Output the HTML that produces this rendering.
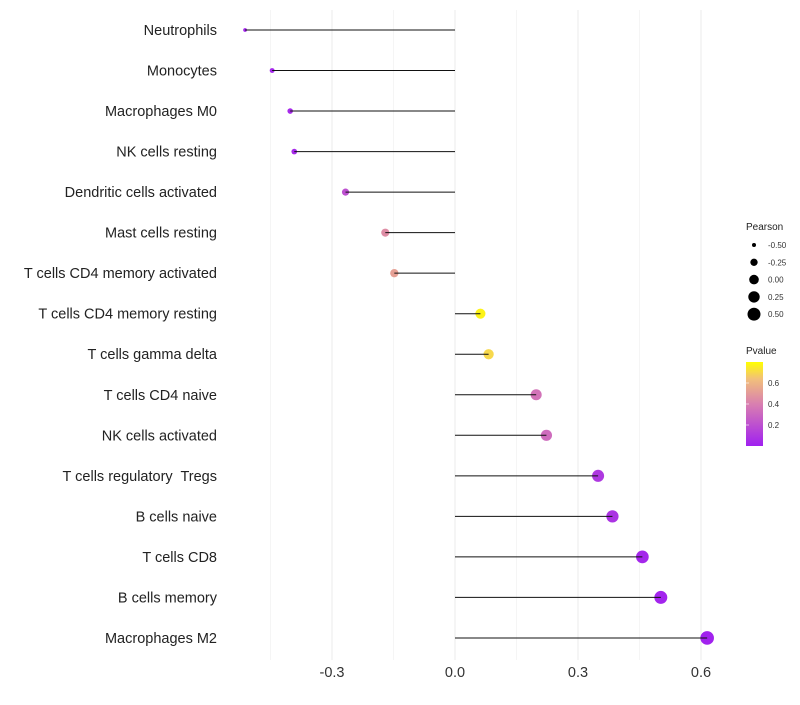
<!DOCTYPE html>
<html><head><meta charset="utf-8"><style>
body{margin:0;background:#fff;font-family:"Liberation Sans",sans-serif;}
text{white-space:pre;}
</style></head><body>
<svg id="chart" width="800" height="700" xmlns="http://www.w3.org/2000/svg" font-family="Liberation Sans, sans-serif">
<defs><linearGradient id="pg" x1="0" y1="1" x2="0" y2="0">
<stop offset="0" stop-color="#A020F0"/><stop offset="0.5" stop-color="#D97FB0"/><stop offset="0.8" stop-color="#F2C07A"/><stop offset="1" stop-color="#FFFF00"/></linearGradient></defs>
<g id="grid"></g><g id="marks"></g><g id="labels"></g><g id="legend"></g>
</svg>
<script>
const categories=["Neutrophils","Monocytes","Macrophages M0","NK cells resting","Dendritic cells activated","Mast cells resting","T cells CD4 memory activated","T cells CD4 memory resting","T cells gamma delta","T cells CD4 naive","NK cells activated","T cells regulatory  Tregs","B cells naive","T cells CD8","B cells memory","Macrophages M2"];
const pearson=[-0.512,-0.446,-0.402,-0.392,-0.267,-0.17,-0.148,0.062,0.082,0.198,0.223,0.349,0.384,0.457,0.502,0.615];
const pvalues=[0.02,0.03,0.04,0.04,0.2,0.45,0.52,0.77,0.7,0.35,0.32,0.1,0.08,0.03,0.02,0.01];
const xTicks=[-0.3,0,0.3,0.6];
const xMinor=[-0.45,-0.15,0.15,0.45];
const sizeLegend=[-0.5,-0.25,0,0.25,0.5];
const pTicks=[0.2,0.4,0.6];
const NS="http://www.w3.org/2000/svg";
function mk(t,a,p){const e=document.createElementNS(NS,t);for(const k in a)e.setAttribute(k,a[k]);p.appendChild(e);return e;}
const x=v=>455+v*410;
const y=i=>30+i*40.53;
const r=v=>Math.sqrt(Math.max(1,23+38*v));
const pMin=0,pMax=0.8;
const stops=[[0,[160,32,240]],[0.5,[217,127,176]],[0.8,[242,192,122]],[1,[255,255,0]]];
function col(p){let t=(p-pMin)/(pMax-pMin);t=Math.max(0,Math.min(1,t));for(let i=1;i<stops.length;i++){if(t<=stops[i][0]){const a=stops[i-1],b=stops[i],f=(t-a[0])/(b[0]-a[0]);return "rgb("+a[1].map((c,j)=>Math.round(c+(b[1][j]-c)*f)).join(",")+")";}}return "rgb(255,255,0)";}
const grid=document.getElementById('grid'),marks=document.getElementById('marks'),labels=document.getElementById('labels'),legend=document.getElementById('legend');
xMinor.forEach(v=>{const l=mk('line',{x1:x(v),x2:x(v),y1:10,y2:660,stroke:'#f3f3f3','stroke-width':0.8},grid);

});
xTicks.forEach(v=>{const l=mk('line',{x1:x(v),x2:x(v),y1:10,y2:660,stroke:'#ebebeb','stroke-width':1},grid);


const t=mk('text',{x:x(v),y:677,'text-anchor':'middle','font-size':14.5,fill:'#333'},labels);t.textContent=v.toFixed(1);

});
categories.forEach((c,i)=>{
const t=mk('text',{x:217,y:y(i)+5,'text-anchor':'end','font-size':14.5,fill:'#222'},labels);t.textContent=c;


const pt=mk('circle',{cx:x(pearson[i]),cy:y(i),r:r(pearson[i]),fill:col(pvalues[i])},marks);


const ln=mk('line',{x1:x(0),x2:x(pearson[i]),y1:y(i),y2:y(i),stroke:'#111','stroke-width':1},marks);

});
let t=mk('text',{x:746,y:230,'font-size':10,fill:'#222'},legend);t.textContent='Pearson';


sizeLegend.forEach((v,i)=>{const cy=245+i*17.3;
const c=mk('circle',{cx:754,cy:cy,r:r(v),fill:'#000'},legend);


const tt=mk('text',{x:768,y:cy+3,'font-size':8,fill:'#333'},legend);tt.textContent=v.toFixed(2);

});
t=mk('text',{x:746,y:354,'font-size':10,fill:'#222'},legend);t.textContent='Pvalue';


const bar=mk('rect',{x:746,y:362,width:17,height:84,fill:'url(#pg)'},legend);


const cy=p=>446-(p-pMin)/(pMax-pMin)*84;
pTicks.forEach(p=>{const l=mk('line',{x1:746,x2:749,y1:cy(p),y2:cy(p),stroke:'#fff','stroke-width':0.6},legend);


const tt=mk('text',{x:768,y:cy(p)+3,'font-size':8,fill:'#333'},legend);tt.textContent=p.toFixed(1);

});
</script>
</body></html>
